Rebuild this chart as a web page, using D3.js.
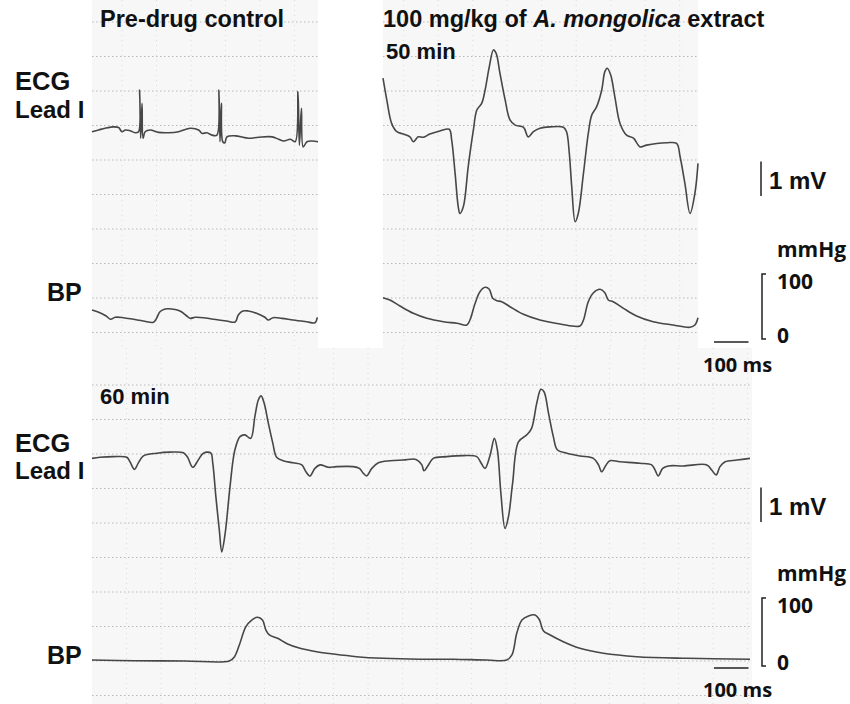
<!DOCTYPE html>
<html>
<head>
<meta charset="utf-8">
<script src="https://cdn.jsdelivr.net/npm/d3@7/dist/d3.min.js"></script>
<style>
  body { margin: 0; background: #fff; }
  .lbl { font-family: "Liberation Sans", Arial, sans-serif; font-weight: bold; fill: #111; }
  .scl { font-family: "Open Sans", sans-serif; font-weight: bold; fill: #111; }
</style>
</head>
<body>
<svg id="chart" width="850" height="704"></svg>
<script>
// traces: [time ms, value]; ECG in mV, BP in mmHg

// pre-drug control
const ctrlEcg = [[0,-0.02],[19,0.03],[38,0.08],[63,0.12],[77,0.10],[87,-0.02],[97,0.03],[110,0.01],[125,-0.05],[135,-0.02],
  [138,1.19],[141,-0.21],[145,0.80],[148,-0.21],[154,-0.02],[169,0.03],[193,-0.04],[222,-0.05],[251,-0.02],[285,0.08],
  [309,0.03],[319,-0.07],[333,-0.05],[348,-0.12],[362,-0.12],[368,1.19],[371,-0.31],[375,0.80],[379,-0.31],[385,-0.34],
  [391,-0.17],[415,-0.14],[454,-0.21],[483,-0.18],[522,-0.17],[541,-0.24],[556,-0.29],[575,-0.24],[589,-0.31],[597,1.14],
  [601,-0.41],[607,0.66],[612,-0.46],[623,-0.31],[638,-0.29],[655,-0.31]]
const ctrlBp = [[0,44.6],[23,40.5],[41,35.4],[54,30.3],[67,33.4],[91,32.8],[120,30.3],[149,27.7],[178,25.7],[187,31.8],
  [197,42.0],[212,46.2],[231,46.2],[255,43.1],[275,35.4],[284,31.8],[299,33.4],[323,32.8],[352,30.3],[390,27.7],
  [415,26.2],[424,36.9],[437,43.1],[453,43.1],[477,39.5],[501,33.4],[511,29.2],[525,32.8],[550,31.8],[583,29.2],
  [622,26.6],[646,25.1],[653,33.4]]

// 100 mg/kg, 50 min
const min50Ecg = [[0,1.53],[11,0.90],[25,0.22],[40,-0.02],[59,-0.09],[78,-0.17],[88,-0.31],[102,-0.17],[117,-0.18],[136,-0.09],
  [165,0.00],[192,0.05],[199,-0.26],[209,-1.23],[218,-2.19],[223,-2.39],[233,-2.19],[247,-1.03],[262,0.03],[272,0.61],
  [286,0.80],[296,1.19],[308,1.86],[320,2.35],[328,2.25],[339,1.67],[354,0.90],[368,0.32],[383,0.17],[407,0.11],
  [421,-0.17],[436,-0.02],[455,0.08],[484,0.12],[523,0.11],[532,-0.02],[540,-0.65],[547,-1.61],[557,-2.63],[566,-2.39],
  [581,-1.23],[595,-0.07],[605,0.46],[619,0.70],[634,1.19],[643,1.72],[650,1.82],[660,1.62],[672,0.99],[687,0.22],
  [706,-0.12],[726,-0.21],[745,-0.46],[764,-0.41],[793,-0.36],[822,-0.34],[851,-0.36],[861,-0.74],[875,-1.52],[890,-2.39],
  [904,-1.81],[913,-0.94]]
const min50Bp = [[0,63.5],[20,60.0],[49,50.8],[88,39.5],[127,31.8],[175,26.6],[214,24.2],[243,21.5],[252,29.2],[267,54.9],
  [281,72.8],[296,79.5],[308,76.5],[318,62.6],[330,58.9],[344,57.4],[368,49.7],[407,38.0],[455,29.2],[513,23.1],
  [571,20.0],[581,29.2],[595,57.4],[610,71.2],[629,76.5],[643,71.2],[653,60.0],[667,57.4],[697,47.2],[735,35.4],
  [783,26.6],[841,21.5],[890,18.0],[904,21.5],[913,32.8]]

// 100 mg/kg, 60 min
const min60Ecg = [[0,-0.01],[23,0.02],[62,0.04],[101,0.02],[110,-0.11],[123,-0.33],[134,-0.15],[149,0.06],[188,0.14],[226,0.17],
  [265,0.15],[277,0.02],[292,-0.27],[308,-0.06],[323,0.14],[344,0.15],[350,-0.15],[359,-1.12],[369,-2.09],[376,-2.72],
  [386,-2.18],[400,-0.83],[414,0.23],[429,0.62],[443,0.67],[460,0.57],[472,1.20],[482,1.68],[490,1.80],[499,1.59],
  [511,1.01],[524,0.43],[535,0.02],[554,-0.08],[583,-0.14],[608,-0.20],[620,-0.40],[632,-0.52],[646,-0.30],[661,-0.20],
  [685,-0.27],[709,-0.25],[757,-0.25],[775,-0.30],[786,-0.44],[796,-0.52],[811,-0.30],[830,-0.14],[864,-0.08],[902,-0.06],
  [939,-0.04],[956,-0.20],[962,-0.37],[975,-0.20],[989,-0.01],[1028,0.04],[1076,0.07],[1115,0.04],[1128,-0.15],[1139,-0.30],
  [1154,0.09],[1166,0.57],[1175,0.23],[1185,-1.02],[1197,-2.04],[1207,-1.70],[1219,-0.73],[1236,0.47],[1260,0.67],[1274,0.86],
  [1289,1.59],[1301,1.99],[1310,1.92],[1323,1.30],[1337,0.62],[1349,0.23],[1376,0.14],[1414,0.06],[1453,-0.01],[1468,-0.20],
  [1477,-0.40],[1490,-0.20],[1501,-0.08],[1530,-0.11],[1588,-0.15],[1622,-0.20],[1632,-0.35],[1641,-0.52],[1654,-0.30],[1670,-0.23],
  [1714,-0.23],[1782,-0.20],[1796,-0.35],[1809,-0.49],[1820,-0.25],[1835,-0.11],[1869,-0.06],[1907,-0.01]]
const min60Bp = [[0,8.8],[123,7.8],[268,7.4],[398,7.4],[413,13.7],[427,30.9],[446,57.8],[463,67.6],[480,71.6],[494,67.6],
  [504,52.9],[514,45.6],[538,40.7],[567,32.4],[603,26.0],[651,21.0],[699,17.6],[767,13.7],[844,11.3],[951,9.9],
  [1047,9.9],[1144,8.8],[1202,8.8],[1217,16.2],[1231,48.1],[1246,67.6],[1265,73.5],[1284,75.0],[1297,67.6],[1308,51.9],
  [1328,45.6],[1366,35.7],[1414,26.0],[1482,18.7],[1579,13.7],[1724,11.3],[1907,9.9]]

const svg = d3.select('#chart')

// time scales, 100 ms = 34.5 px on all panels
const xA = d3.scaleLinear().domain([0, 655]).range([92, 318])
const xB = d3.scaleLinear().domain([0, 913]).range([383, 698])
const xC = d3.scaleLinear().domain([0, 1907]).range([92, 750])

const ecgTop = d3.scaleLinear().domain([0, 1]).range([131, 96.5])
const bpTop = d3.scaleLinear().domain([0, 100]).range([339, 274])
const ecgBot = d3.scaleLinear().domain([0, 1]).range([458, 423.5])
const bpBot = d3.scaleLinear().domain([0, 100]).range([666, 598])

// paper background
const paperRects = [[92, 0, 318, 348], [383, 0, 698, 348], [92, 348, 752, 704]]
svg.selectAll('rect.paper').data(paperRects).join('rect')
  .attr('class', 'paper')
  .attr('x', d => d[0]).attr('y', d => d[1])
  .attr('width', d => d[2] - d[0]).attr('height', d => d[3] - d[1])
  .attr('fill', '#f7f7f7')

// dotted grid
function grid(x, y0, y1, firstY, firstMs) {
  const g = svg.append('g')
  const [x0, x1] = x.range()
  g.selectAll('line.h').data(d3.range(firstY, y1, 34.5)).join('line')
    .attr('x1', x0).attr('x2', x1).attr('y1', d => d).attr('y2', d => d)
    .attr('stroke', '#b9b9b9').attr('stroke-width', 1).attr('stroke-dasharray', '1.5,2.5')
  g.selectAll('line.v').data(d3.range(firstMs, x.domain()[1], 100)).join('line')
    .attr('x1', d => x(d)).attr('x2', d => x(d)).attr('y1', y0).attr('y2', y1)
    .attr('stroke', '#dcdcdc').attr('stroke-width', 1).attr('stroke-dasharray', '1,4')
}
grid(xA, 0, 348, 22, 87)
grid(xB, 0, 348, 22, 60)
grid(xC, 348, 704, 385, 100)

// traces
function trace(data, x, y) {
  const line = d3.line().x(d => x(d[0])).y(d => y(d[1])).curve(d3.curveCatmullRom.alpha(0.5))
  svg.append('path').datum(data)
    .attr('d', line)
    .attr('fill', 'none')
    .attr('stroke', '#333')
    .attr('stroke-width', 1.6)
    .attr('stroke-linejoin', 'round')
    .attr('stroke-opacity', 0.9)
}
trace(ctrlEcg, xA, ecgTop)
trace(ctrlBp, xA, bpTop)
trace(min50Ecg, xB, ecgTop)
trace(min50Bp, xB, bpTop)
trace(min60Ecg, xC, ecgBot)
trace(min60Bp, xC, bpBot)

// labels
function label(txt, x, y, size, cls) {
  return svg.append('text').attr('class', cls || 'lbl')
    .attr('x', x).attr('y', y).attr('font-size', size).text(txt)
}
label('Pre-drug control', 100, 27, 23.5)
const title = label('100 mg/kg of ', 383, 27, 23.5)
title.append('tspan').attr('font-style', 'italic').text('A. mongolica')
title.append('tspan').text(' extract')
label('50 min', 386, 59, 22)
label('60 min', 100, 404, 22)

label('ECG', 15, 90, 25.5)
label('Lead I', 15, 118, 24)
label('BP', 47, 301, 25)
label('ECG', 15, 452, 25.5)
label('Lead I', 15, 479, 24)
label('BP', 47, 664, 25)

// calibration bars
function calib(ecgY, bpY, mvBottom, barY, txtY) {
  const g = svg.append('g').attr('stroke', '#222').attr('stroke-width', 1.5).attr('fill', 'none')
  const mvLen = ecgY(0) - ecgY(1)
  g.append('line').attr('x1', 761).attr('x2', 761).attr('y1', mvBottom - mvLen).attr('y2', mvBottom)
  g.append('path').attr('d', `M766,${bpY(100)}H762V${bpY(0)}H766`)
  g.append('line').attr('x1', 714).attr('x2', 714 + xC(100) - xC(0)).attr('y1', barY).attr('y2', barY)
  label('1 mV', 769, mvBottom - 7, 24)
  label('mmHg', 777, bpY(100) - 17, 21, 'scl')
  label('100', 777, bpY(100) + 15, 21, 'scl')
  label('0', 777, bpY(0) + 4, 21, 'scl')
  label('100 ms', 703, txtY, 20, 'scl')
}
calib(ecgTop, bpTop, 196, 342, 372)
calib(ecgBot, bpBot, 522, 668, 697)
</script>
</body>
</html>
